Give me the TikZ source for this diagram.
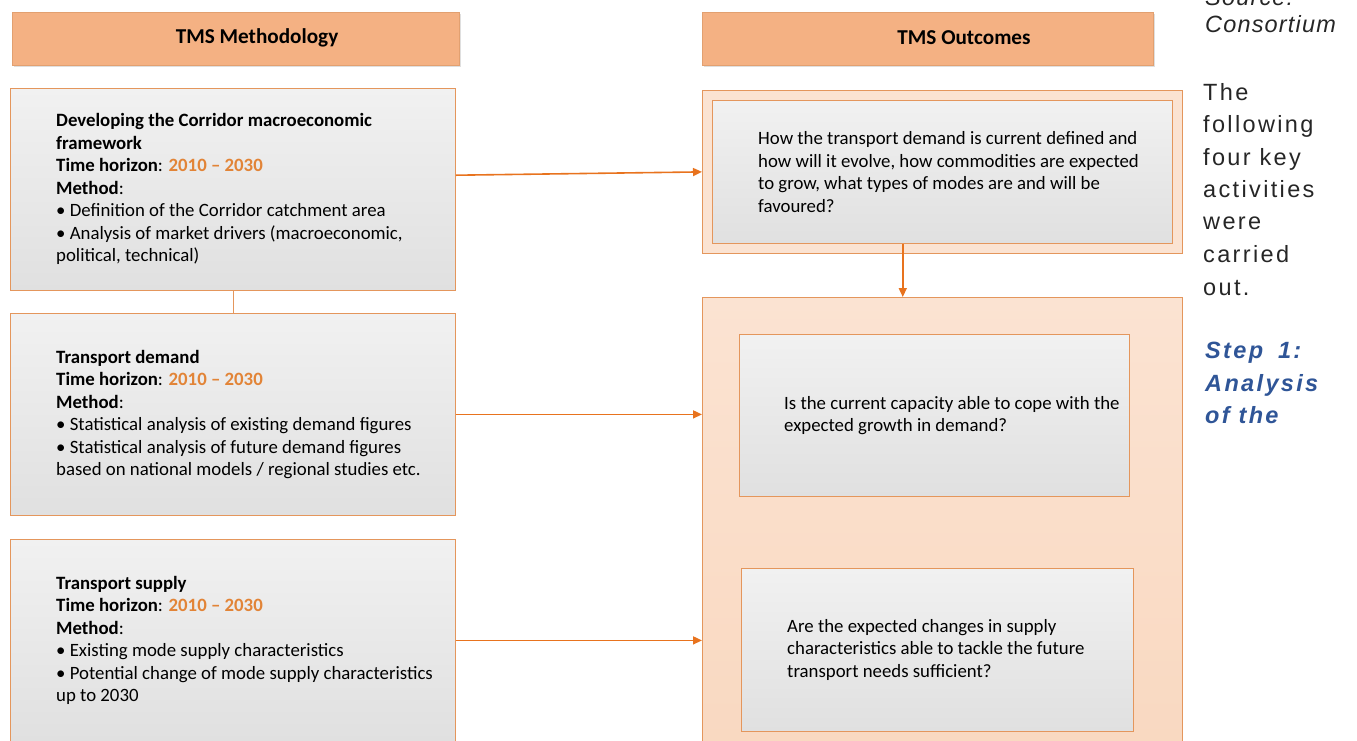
\documentclass[tikz,border=0pt]{standalone}
\usepackage{fontspec}
\setmainfont{Carlito}
\newfontfamily\arialf[LetterSpace=10]{Liberation Sans}
\newfontfamily\arialg[LetterSpace=5]{Liberation Sans}
\usetikzlibrary{arrows.meta,shadows,calc}
\definecolor{hdrfill}{RGB}{244,177,131}
\definecolor{hdrline}{RGB}{226,160,112}
\definecolor{boxline}{RGB}{228,150,92}
\definecolor{arrorange}{RGB}{232,115,30}
\definecolor{yearorange}{RGB}{226,132,55}
\definecolor{peach}{RGB}{251,227,210}
\definecolor{peachdark}{RGB}{249,216,192}
\definecolor{stepblue}{RGB}{47,85,151}
\definecolor{greytop}{RGB}{241,241,241}
\definecolor{greybot}{RGB}{224,224,224}
\tikzset{
  hdr/.style={draw=hdrline, line width=0.6pt, fill=hdrfill, anchor=north west, inner sep=0pt,
    drop shadow={opacity=0.25, shadow xshift=2pt, shadow yshift=-2pt}},
  hdrtxt/.style={font=\fontsize{21.2}{25}\selectfont\bfseries, inner sep=0pt},
  gbox/.style={draw=boxline, line width=0.8pt, top color=greytop, bottom color=greybot, anchor=north west, inner sep=0pt},
  obox/.style={draw=boxline, line width=0.8pt, fill=peach, anchor=north west, inner sep=0pt},
  txt/.style={font=\fontsize{18.8}{22.5}\selectfont, align=left, anchor=west, inner sep=0pt},
  conn/.style={draw=arrorange, line width=1.6pt, -{Triangle[length=9pt,width=8pt]}},
  plain/.style={draw=boxline, line width=0.8pt},
  rtxt/.style={font=\fontsize{23.5}{32.5}\selectfont\arialf, anchor=base west, inner sep=0pt, text=black!85},
  steptxt/.style={font=\fontsize{23.5}{32.5}\selectfont\arialf\bfseries\itshape, anchor=base west, inner sep=0pt, text=stepblue},
}
\newcommand{\yr}{\textcolor{yearorange}{\textbf{2010 – 2030}}}
\begin{document}
\begin{tikzpicture}[x=1pt,y=-1pt]
\useasboundingbox (0,0) rectangle (1357,740);
\clip (0,0) rectangle (1357,740);
% headers
\node[hdr, minimum width=447pt, minimum height=53pt] (hdrL) at (12,12) {};
\node[hdr, minimum width=451pt, minimum height=53pt] (hdrR) at (702,12) {};
\node[hdrtxt] (hL) at (257,38) {TMS Methodology};
\node[hdrtxt] (hR) at (964,38) {TMS Outcomes};
% left boxes
\node[gbox, minimum width=445pt, minimum height=202pt] (boxA) at (10,88) {};
\node[gbox, minimum width=445pt, minimum height=202pt] (boxB) at (10,313) {};
\node[gbox, minimum width=445pt, minimum height=202pt] (boxC) at (10,539) {};
\node[txt] (tA) at ([xshift=46pt]boxA.west) {\textbf{Developing the Corridor macroeconomic}\\\textbf{framework}\\\textbf{Time horizon}: \yr\\\textbf{Method}:\\• Definition of the Corridor catchment area\\• Analysis of market drivers (macroeconomic,\\political, technical)};
\node[txt] (tB) at ([xshift=46pt]boxB.west) {\textbf{Transport demand}\\\textbf{Time horizon}: \yr\\\textbf{Method}:\\• Statistical analysis of existing demand figures\\• Statistical analysis of future demand figures\\based on national models / regional studies etc.};
\node[txt] (tC) at ([xshift=46pt]boxC.west) {\textbf{Transport supply}\\\textbf{Time horizon}: \yr\\\textbf{Method}:\\• Existing mode supply characteristics\\• Potential change of mode supply characteristics\\up to 2030};
% right boxes
\node[obox, minimum width=480pt, minimum height=163pt] (outA) at (702,90) {};
\node[gbox, minimum width=460pt, minimum height=143pt] (inA) at (712,100) {};
\node[obox, top color=peach, bottom color=peachdark, minimum width=480pt, minimum height=470pt] (outB) at (702,297) {};
\node[gbox, minimum width=390pt, minimum height=162pt] (inB) at (739,334) {};
\node[gbox, minimum width=392pt, minimum height=163pt] (inC) at (741,568) {};
\node[txt] (tiA) at ([xshift=46pt]inA.west) {How the transport demand is current defined and\\how will it evolve, how commodities are expected\\to grow, what types of modes are and will be\\favoured?};
\node[txt] (tiB) at ([xshift=45pt]inB.west) {Is the current capacity able to cope with the\\expected growth in demand?};
\node[txt] (tiC) at ([xshift=46pt]inC.west) {Are the expected changes in supply\\characteristics able to tackle the future\\transport needs sufficient?};
% connectors
\draw[plain] (boxA.south) -- (boxB.north);
\coordinate (aStart) at ($(boxA.north east)!0.43!(boxA.south east)$);
\draw[conn] (aStart) -- (outA.west);
\draw[conn] (boxB.east) -- (boxB.east -| outB.west);
\draw[conn] (boxC.east) -- (boxC.east -| outB.west);
\coordinate (dStart) at ($(inA.south west)!0.414!(inA.south east)$);
\draw[conn] (dStart) -- (dStart |- outB.north);
% right column text
\node[rtxt, font=\fontsize{23.5}{32.5}\selectfont\arialg\itshape] (src) at (1205,5) {Source:};
\node[rtxt, font=\fontsize{23.5}{32.5}\selectfont\arialg\itshape] (cons) at (1205,32) {Consortium};
\node[rtxt] (p1) at (1203,100) {The};
\node[rtxt] (p2) at (1203,132) {following};
\node[rtxt] (p3) at (1203,165) {four key};
\node[rtxt] (p4) at (1203,197) {activities};
\node[rtxt] (p5) at (1203,229) {were};
\node[rtxt] (p6) at (1203,262) {carried};
\node[rtxt] (p7) at (1203,295) {out.};
\node[steptxt] (s1) at (1205,358) {Step\hspace{6pt} 1:};
\node[steptxt] (s2) at (1205,391) {Analysis};
\node[steptxt] (s3) at (1205,423) {of the};
\end{tikzpicture}
\end{document}
